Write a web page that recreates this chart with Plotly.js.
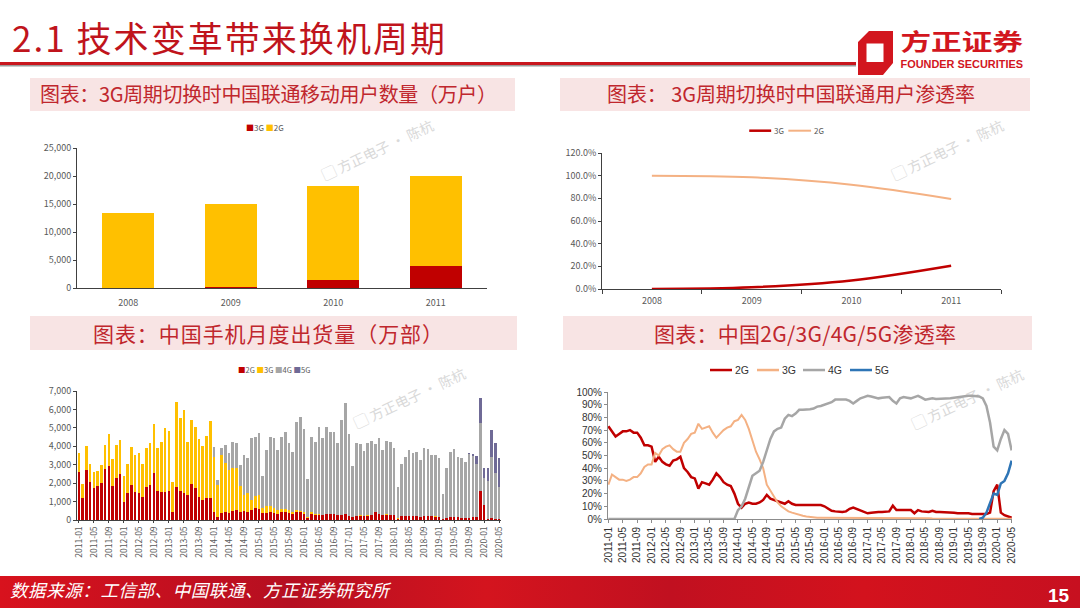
<!DOCTYPE html>
<html><head><meta charset="utf-8">
<script src="https://cdn.plot.ly/plotly-3.0.1.min.js"></script>
<style>
html,body{margin:0;padding:0;width:1080px;height:608px;overflow:hidden;background:#fff;}
#deco{position:absolute;left:0;top:0;}
.chart{position:absolute;}
</style></head><body>
<svg id="deco" width="1080" height="608" xmlns="http://www.w3.org/2000/svg" font-family="'Noto Sans CJK SC', sans-serif">
<defs>
<linearGradient id="fg" x1="0" x2="1" y1="0" y2="0">
<stop offset="0" stop-color="#d8121d"/>
<stop offset="0.14" stop-color="#c6101f"/>
<stop offset="0.27" stop-color="#b50f21"/>
<stop offset="0.45" stop-color="#d4141e"/>
<stop offset="0.62" stop-color="#c11020"/>
<stop offset="0.8" stop-color="#d3121d"/>
<stop offset="1" stop-color="#c71020"/>
</linearGradient>
</defs>
<text x="12" y="52" font-size="35" fill="#C0141C" textLength="433" lengthAdjust="spacing">2.1 技术变革带来换机周期</text>
<rect x="0" y="62" width="856" height="3" fill="#C8161D"/>
<rect x="0" y="65" width="856" height="1.5" fill="#9a9a9a"/>
<path d="M869,31 L893,31 L893,63 L883,75 L858,75 L858,42 Z M866.5,43.5 L866.5,62 L883.5,62 L883.5,43.5 Z" fill="#D2161E" fill-rule="evenodd"/>
<text x="900.5" y="50" font-size="22.5" font-weight="bold" fill="#D2161E" textLength="122.5" lengthAdjust="spacingAndGlyphs">方正证券</text>
<text x="900.5" y="67.5" font-family="'Liberation Sans', Arial, sans-serif" font-size="11" font-weight="bold" fill="#D2161E" textLength="122.5" lengthAdjust="spacingAndGlyphs">FOUNDER SECURITIES</text>

<rect x="30" y="78" width="485" height="33" fill="#F8E4E4"/>
<text x="40" y="102" font-size="20" fill="#C0272D" textLength="457" lengthAdjust="spacing">图表：3G周期切换时中国联通移动用户数量（万户）</text>
<rect x="560" y="78" width="470" height="33" fill="#F8E4E4"/>
<text x="607" y="102" font-size="20" fill="#C0272D" textLength="368" lengthAdjust="spacing">图表： 3G周期切换时中国联通用户渗透率</text>
<rect x="30" y="316" width="487" height="34" fill="#F8E4E4"/>
<text x="93" y="342" font-size="21" fill="#C0272D" textLength="350" lengthAdjust="spacing">图表：中国手机月度出货量（万部）</text>
<rect x="563" y="316" width="469" height="34" fill="#F8E4E4"/>
<text x="654" y="342" font-size="21" fill="#C0272D" textLength="302" lengthAdjust="spacing">图表：中国2G/3G/4G/5G渗透率</text>

<g fill="#d9d9d9" font-size="14" text-anchor="middle">
<text transform="translate(380,155) rotate(-25)">▢ 方正电子 · 陈杭</text>
<text transform="translate(950,155) rotate(-25)">▢ 方正电子 · 陈杭</text>
<text transform="translate(412,403) rotate(-25)">▢ 方正电子 · 陈杭</text>
<text transform="translate(970,404) rotate(-25)">▢ 方正电子 · 陈杭</text>
</g>

<rect x="0" y="576" width="1080" height="32" fill="url(#fg)"/>
<text x="10" y="596.5" font-size="17.5" font-style="italic" fill="#ffffff" textLength="379" lengthAdjust="spacing">数据来源：工信部、中国联通、方正证券研究所</text>
<text x="1048" y="602" font-family="'Liberation Sans', Arial, sans-serif" font-size="19" font-weight="bold" fill="#ffffff">15</text>
</svg>

<div id="c1" class="chart" style="left:0px;top:112px;width:540px;height:200px"></div>
<div id="c2" class="chart" style="left:540px;top:112px;width:540px;height:200px"></div>
<div id="c3" class="chart" style="left:0px;top:355px;width:540px;height:221px"></div>
<div id="c4" class="chart" style="left:540px;top:355px;width:540px;height:221px"></div>

<script>
// ---------- data: chart 1 (联通移动用户数量, 万户) ----------
const years = ['2008', '2009', '2010', '2011'];
const users3G = [0, 250, 1500, 4000];
const users2G = [13400, 14750, 16700, 16000];
const userTickVals = [0, 5000, 10000, 15000, 20000, 25000];
const userTickText = ['0', '5,000', '10,000', '15,000', '20,000', '25,000'];

// ---------- data: chart 2 (联通用户渗透率, %) ----------
const rate3G = [0, 1.5, 7.5, 20.5];
const rate2G = [100, 98.5, 92, 79.5];

// ---------- data: months 2011-01 .. 2020-05 ----------
const months = [];
for (let y = 2011; y <= 2020; y++) {
  for (let m = 1; m <= 12; m++) {
    if (y === 2020 && m > 5) break;
    months.push(y + '-' + String(m).padStart(2, '0'));
  }
}
const tickMonths = months.filter((_, i) => i % 4 === 0);

// ---------- data: chart 3 (手机月度出货量, 万部) ----------
const ship2G = [2620,1210,2710,2060,1750,1840,2020,2750,2930,1840,
  2300,2500,1000,1450,1920,1520,1450,1250,1810,1900,
  2530,1560,1520,1520,1560,450,1810,1560,1480,1370,
  1930,1720,1250,1080,1210,1180,
  420,145,360,450,400,500,540,450,500,450,
  540,630,600,360,400,450,400,350,420,450,
  400,350,420,420,350,110,350,250,250,250,
  300,300,300,250,250,300,200,150,220,230,
  200,230,250,430,300,250,280,270,250,80,
  200,200,200,200,230,180,200,200,200,190,
  170,60,130,180,170,140,130,120,130,140,
  170,1590,810,50,100,60,30];
const ship3G = [1000,740,1300,960,840,820,960,1320,1740,1470,
  1750,1840,1410,1570,2060,2010,2170,1790,2100,2260,
  2680,2350,2730,3450,3250,1630,4610,3990,4490,2880,
  3490,3340,3160,2930,3350,4190,
  3020,1750,3170,2620,2310,2320,2280,1390,860,1000,
  540,670,760,290,360,300,250,200,180,170,
  130,100,100,90,80,40,60,50,50,40,
  40,40,30,30,30,30,30,20,20,20,
  20,20,20,20,20,20,20,20,20,10,
  10,10,10,10,10,10,10,10,10,10,
  10,5,5,5,5,5,5,5,5,5,
  5,5,0,0,0,0,0];
const ship4G = [0,0,0,0,0,0,0,0,0,0,
  0,0,0,0,0,0,0,0,0,0,
  0,0,0,0,0,0,0,0,0,0,
  0,0,0,0,0,0,
  500,275,360,1000,940,1430,1380,1140,2170,1900,
  3370,3220,3380,1740,3040,3770,3780,3250,3880,4170,
  3670,3260,4780,5100,4490,2060,4070,3950,4730,4140,
  4720,4420,4430,3920,5140,6000,4440,2760,3920,3850,
  3540,3910,4020,3670,4110,3530,3990,3960,3620,1680,
  2810,3230,3590,3410,3450,3060,3680,3620,3320,3330,
  3200,1345,2705,3485,3655,3295,3245,3005,3440,3305,
  2875,3655,1480,2050,3330,2470,1780];
const ship5G = [0,0,0,0,0,0,0,0,0,0,
  0,0,0,0,0,0,0,0,0,0,
  0,0,0,0,0,0,0,0,0,0,
  0,0,0,0,0,0,
  0,0,0,0,0,0,0,0,0,0,
  0,0,0,0,0,0,0,0,0,0,
  0,0,0,0,0,0,0,0,0,0,
  0,0,0,0,0,0,0,0,0,0,
  0,0,0,0,0,0,0,0,0,0,
  0,0,0,0,0,0,0,0,0,0,
  0,0,0,0,0,0,0,0,45,110,
  420,1350,550,700,1450,1630,1570];
const shipTickVals = [0, 1000, 2000, 3000, 4000, 5000, 6000, 7000];
const shipTickText = ['0', '1,000', '2,000', '3,000', '4,000', '5,000', '6,000', '7,000'];

// ---------- data: chart 4 (2G/3G/4G/5G 渗透率, %) ----------
const pen2G = [73,69,65,67,69,69,70,68,68,64,
  58,58,57,45,49,45,43,42,46,47,
  49,40,37,33,32,24,29,28,27,31,
  36,33,29,27,26,20,12,9,12,13,
  12,12,13,15,19,16,15,14,13,12,
  14,12,11,11,11,11,11,11,11,11,
  10,8,6.5,6,5.5,5.5,6,8,9,8,
  7,5.5,4.5,5,5.5,5.5,5.5,5.5,6,10.5,
  7,7,7,6.5,7,4.5,7,6,5.5,5.5,
  6.5,5.5,5.5,5.5,5.5,5.5,5,4.5,4.5,5,
  4.5,4,4,4,4,4,5,22,27,5,
  3,2,1];
const pen3G = [27,35,33,31,31,30,31,33,33,36,
  41,43,43,52,50,55,57,58,55,53,
  53,60,63,67,68,75,71,72,73,68,
  64,67,70,72,73,77,78,82,78,71,
  62,53,47,40,27,22,17,13,10,8,
  6,5,4,3,2.5,2,1.5,1.5,1,1,
  1,1,0.8,0.8,0.8,0.7,0.7,0.6,0.6,0.6,
  0.6,0.5,0.5,0.5,0.5,0.5,0.5,0.5,0.5,0.5,
  0.5,0.5,0.5,0.5,0.5,0.5,0.5,0.5,0.5,0.5,
  0.4,0.4,0.4,0.4,0.4,0.4,0.4,0.4,0.4,0.4,
  0.3,0.3,0.3,0.3,0.3,0.3,0.3,0.3,0.3,0.3,
  0.2,0.2,0.2];
const pen4G = [0,0,0,0,0,0,0,0,0,0,
  0,0,0,0,0,0,0,0,0,0,
  0,0,0,0,0,0,0,0,0,0,
  0,0,0,0,0,0,
  7,10,16,25,34,36,38,45,55,63,
  69,71,72,79,82,81,83,86,86,86,
  86.5,87,88.5,89,90,91,92,94,94,94.5,
  94,93,91,93,95,96,97,96.5,95.5,95,
  95.5,96,96,93,91,95,96,95.5,95,96,
  97,95.5,94,94.5,95,94.5,94.5,95,95,95,
  95.5,96,96,96.5,97,97,97,96.5,95,89,
  76,57,54,63,70,67,54];
const pen5G = [null,null,null,null,null,null,null,null,null,null,
  null,null,null,null,null,null,null,null,null,null,
  null,null,null,null,null,null,null,null,null,null,
  null,null,null,null,null,null,null,null,null,null,
  null,null,null,null,null,null,null,null,null,null,
  null,null,null,null,null,null,null,null,null,null,
  null,null,null,null,null,null,null,null,null,null,
  null,null,null,null,null,null,null,null,null,null,
  null,null,null,null,null,null,null,null,null,null,
  null,null,null,null,null,null,null,null,null,null,
  null,null,null,0,1,5,13,20,19,28,
  30,36,46];

// ---------- styling ----------
const CJK = '"Noto Sans CJK SC", "Noto Sans", sans-serif';
const ARIAL = '"Liberation Sans", Arial, sans-serif';
const C_RED = '#C00000', C_YEL = '#FFC000', C_GRY = '#A6A6A6', C_PUR = '#6F6A96';
const C_TAN = '#F4B183', C_BLU = '#2E75B6';
const cfg = {staticPlot: true, displayModeBar: false};
const clear = {paper_bgcolor: 'rgba(0,0,0,0)', plot_bgcolor: 'rgba(0,0,0,0)'};

function sq(color) { return '<span style="color:' + color + '">■</span>'; }

// ---------- chart 1 ----------
Plotly.newPlot('c1', [
  {type: 'bar', x: years, y: users3G, name: '3G', marker: {color: C_RED}},
  {type: 'bar', x: years, y: users2G, name: '2G', marker: {color: C_YEL}}
], Object.assign({
  width: 540, height: 200, margin: {l: 77, r: 53, t: 36, b: 24, pad: 0},
  barmode: 'stack', bargap: 0.49, showlegend: false,
  font: {family: CJK, size: 9, color: '#595959'},
  xaxis: {type: 'category', showline: true, linecolor: '#404040', linewidth: 1,
          ticks: 'outside', ticklen: 6, tickcolor: 'rgba(0,0,0,0)',
          tickfont: {size: 9, color: '#595959'}, showgrid: false},
  yaxis: {range: [0, 25000], tickvals: userTickVals, ticktext: userTickText, showline: true,
          linecolor: '#404040', ticks: 'outside', ticklen: 3, tickcolor: '#404040',
          showgrid: false, zeroline: false, tickfont: {size: 9, color: '#595959'}},
  annotations: [{xref: 'paper', yref: 'paper', x: 0.458, y: 1.143, showarrow: false,
    xanchor: 'center', yanchor: 'middle', font: {size: 8, color: '#595959', family: CJK},
    text: sq(C_RED) + '3G ' + sq(C_YEL) + '2G'}]
}, clear), cfg);

// ---------- chart 2 ----------
const l2y = 1.164;
Plotly.newPlot('c2', [
  {type: 'scatter', mode: 'lines', x: years, y: rate3G, name: '3G', line: {color: C_RED, width: 2.5, shape: 'spline'}},
  {type: 'scatter', mode: 'lines', x: years, y: rate2G, name: '2G', line: {color: C_TAN, width: 2, shape: 'spline'}}
], Object.assign({
  width: 540, height: 200, margin: {l: 62, r: 79, t: 41, b: 23, pad: 0},
  showlegend: false,
  font: {family: CJK, size: 9, color: '#595959'},
  xaxis: {type: 'category', range: [-0.5, 3.5], showline: true, linecolor: '#404040', ticks: 'outside',
          tickson: 'boundaries', ticklen: 4, tickcolor: '#404040', showgrid: false,
          ticklabelstandoff: 3, tickfont: {size: 9, color: '#595959'}},
  yaxis: {range: [0, 120], dtick: 20, tickformat: '.1f', ticksuffix: '%', showline: true,
          linecolor: '#404040', ticks: 'outside', ticklen: 3, tickcolor: '#404040',
          showgrid: false, zeroline: false, tickfont: {size: 9, color: '#595959'}},
  shapes: [
    {type: 'line', xref: 'paper', yref: 'paper', x0: 0.369, x1: 0.424, y0: l2y, y1: l2y, line: {color: C_RED, width: 2.5}},
    {type: 'line', xref: 'paper', yref: 'paper', x0: 0.467, x1: 0.524, y0: l2y, y1: l2y, line: {color: C_TAN, width: 2}}
  ],
  annotations: [
    {xref: 'paper', yref: 'paper', x: 0.427, y: l2y, xanchor: 'left', yanchor: 'middle', showarrow: false, text: '3G', font: {size: 8, color: '#595959'}},
    {xref: 'paper', yref: 'paper', x: 0.527, y: l2y, xanchor: 'left', yanchor: 'middle', showarrow: false, text: '2G', font: {size: 8, color: '#595959'}}
  ]
}, clear), cfg);

// ---------- chart 3 ----------
Plotly.newPlot('c3', [
  {type: 'bar', x: months, y: ship2G, name: '2G', marker: {color: C_RED}},
  {type: 'bar', x: months, y: ship3G, name: '3G', marker: {color: C_YEL}},
  {type: 'bar', x: months, y: ship4G, name: '4G', marker: {color: C_GRY}},
  {type: 'bar', x: months, y: ship5G, name: '5G', marker: {color: C_PUR}}
], Object.assign({
  width: 540, height: 221, margin: {l: 77, r: 39, t: 36, b: 56, pad: 0},
  barmode: 'stack', bargap: 0.3, showlegend: false,
  font: {family: CJK, size: 9, color: '#595959'},
  xaxis: {type: 'category', range: [-0.5, 112.5], tickvals: tickMonths, ticktext: tickMonths, tickangle: -90,
          showline: true, linecolor: '#404040', ticks: 'outside', ticklen: 2, tickcolor: '#404040',
          showgrid: false, tickfont: {size: 8.5, color: '#595959'}},
  yaxis: {range: [0, 7000], tickvals: shipTickVals, ticktext: shipTickText, showline: true,
          linecolor: '#404040', ticks: 'outside', ticklen: 3, tickcolor: '#404040',
          showgrid: false, zeroline: false, tickfont: {size: 9, color: '#595959'}},
  annotations: [{xref: 'paper', yref: 'paper', x: 0.465, y: 1.17, showarrow: false,
    xanchor: 'center', yanchor: 'middle', font: {size: 7.5, color: '#595959', family: CJK},
    text: sq(C_RED) + '2G ' + sq(C_YEL) + '3G ' + sq(C_GRY) + '4G ' + sq(C_PUR) + '5G'}]
}, clear), cfg);

// ---------- chart 4 ----------
const l4y = 1.173;
function px4(X) { return (X - 608) / 404; }
const leg4 = [['2G', C_RED, 710], ['3G', C_TAN, 757], ['4G', C_GRY, 803], ['5G', C_BLU, 850]];
Plotly.newPlot('c4', [
  {type: 'scatter', mode: 'lines', x: months, y: pen2G, name: '2G', line: {color: C_RED, width: 2.5}},
  {type: 'scatter', mode: 'lines', x: months, y: pen3G, name: '3G', line: {color: C_TAN, width: 2}},
  {type: 'scatter', mode: 'lines', x: months, y: pen4G, name: '4G', line: {color: C_GRY, width: 2.5}},
  {type: 'scatter', mode: 'lines', x: months, y: pen5G, name: '5G', line: {color: C_BLU, width: 2.5}}
], Object.assign({
  width: 540, height: 221, margin: {l: 68, r: 68, t: 37, b: 57, pad: 0},
  showlegend: false,
  font: {family: ARIAL, size: 10, color: '#333333'},
  xaxis: {type: 'category', range: [-0.1, 112.1], tickvals: tickMonths, ticktext: tickMonths, tickangle: -90,
          showline: true, linecolor: '#8c8c8c', ticks: 'outside', ticklen: 3, tickcolor: '#8c8c8c',
          showgrid: false, tickfont: {size: 10, color: '#333333', family: ARIAL}},
  yaxis: {range: [0, 100], dtick: 10, ticksuffix: '%', showline: true,
          linecolor: '#8c8c8c', ticks: 'outside', ticklen: 3, tickcolor: '#8c8c8c',
          showgrid: false, zeroline: false, tickfont: {size: 10, color: '#333333', family: ARIAL}},
  shapes: leg4.map(d => ({type: 'line', xref: 'paper', yref: 'paper', x0: px4(d[2]), x1: px4(d[2] + 22),
    y0: l4y, y1: l4y, line: {color: d[1], width: 2.5}})),
  annotations: leg4.map(d => ({xref: 'paper', yref: 'paper', x: px4(d[2] + 23), y: l4y, xanchor: 'left',
    yanchor: 'middle', showarrow: false, text: d[0], font: {size: 10.5, color: '#333333', family: ARIAL}}))
}, clear), cfg);
</script>
</body></html>
